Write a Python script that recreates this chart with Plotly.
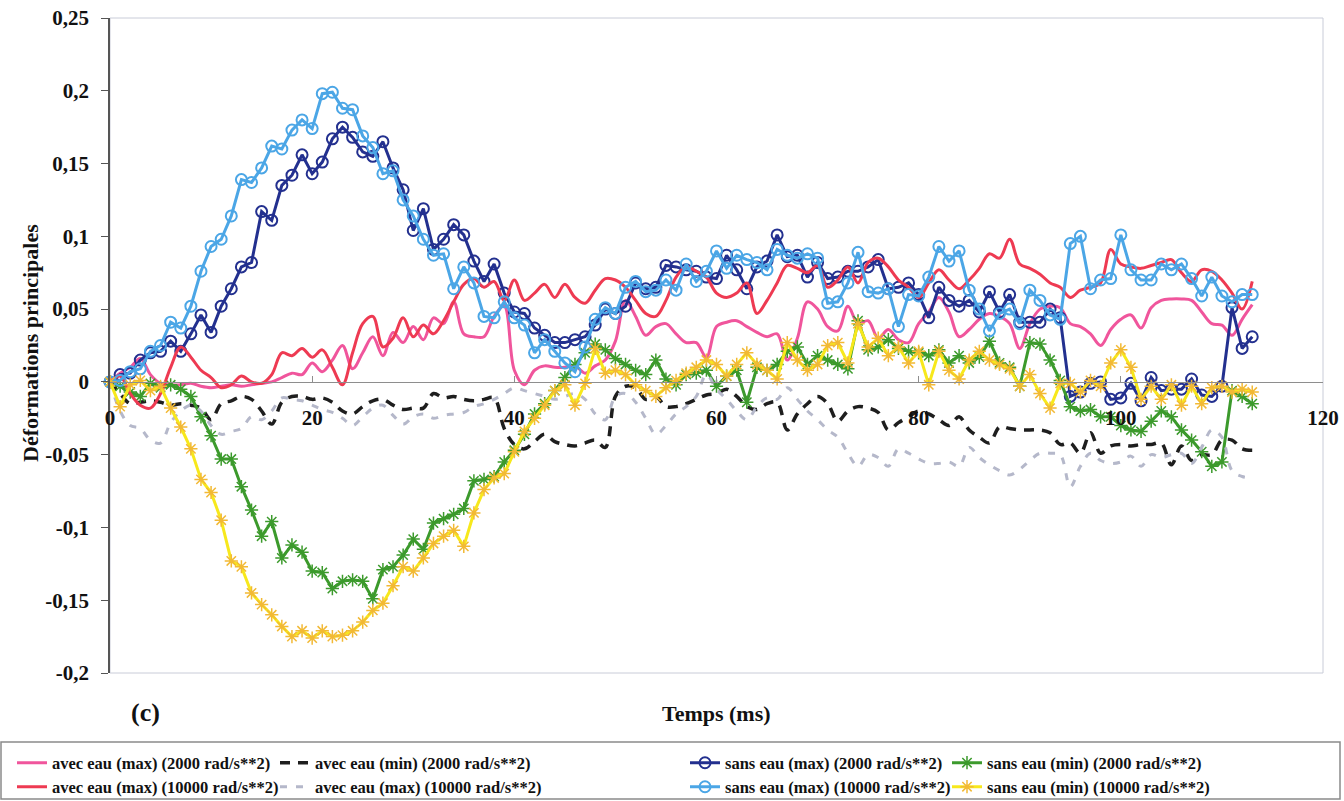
import plotly.graph_objects as go

# Sample times (ms), one sample per millisecond
temps = list(range(0, 114))

# avec eau (max) (2000 rad/s**2)
avec_max_2000 = [
    0.000, 0.006, 0.010, 0.016, 0.005, -0.001, -0.002, -0.002, -0.001, -0.003,
    -0.004, -0.003, -0.002, -0.003, -0.002, -0.001, 0.000, 0.003, 0.006, 0.005,
    0.013, 0.007, 0.015, 0.025, 0.009, 0.020, 0.031, 0.018, 0.034, 0.027,
    0.038, 0.029, 0.044, 0.040, 0.055, 0.033, 0.031, 0.031, 0.045, 0.052,
    0.008, -0.002, 0.008, 0.011, 0.010, 0.010, 0.011, 0.006, 0.011, 0.015,
    0.028, 0.056, 0.045, 0.032, 0.038, 0.040, 0.033, 0.027, 0.027, 0.017,
    0.038, 0.041, 0.042, 0.038, 0.034, 0.031, 0.033, 0.015, 0.030, 0.055,
    0.050, 0.038, 0.035, 0.052, 0.040, 0.042, 0.030, 0.036, 0.029, 0.027,
    0.040, 0.048, 0.058, 0.048, 0.031, 0.036, 0.043, 0.047, 0.045, 0.040,
    0.023, 0.040, 0.050, 0.052, 0.051, 0.040, 0.038, 0.033, 0.025, 0.036,
    0.043, 0.046, 0.037, 0.051, 0.056, 0.057, 0.057, 0.056, 0.048, 0.040,
    0.039, 0.032, 0.043, 0.053,
]

# avec eau (max) (10000 rad/s**2)
avec_max_10000 = [
    0.000, 0.004, -0.008, -0.016, -0.018, -0.008, 0.010, 0.024, 0.017, 0.008,
    0.003, -0.004, -0.002, 0.004, 0.000, -0.001, 0.005, 0.020, 0.018, 0.023,
    0.017, 0.022, 0.010, -0.002, 0.020, 0.040, 0.045, 0.024, 0.030, 0.044,
    0.031, 0.039, 0.033, 0.042, 0.055, 0.067, 0.071, 0.065, 0.069, 0.056,
    0.070, 0.056, 0.061, 0.067, 0.058, 0.067, 0.058, 0.054, 0.063, 0.071,
    0.070, 0.065, 0.056, 0.047, 0.045, 0.056, 0.072, 0.079, 0.076, 0.072,
    0.061, 0.058, 0.061, 0.068, 0.047, 0.056, 0.068, 0.080, 0.078, 0.075,
    0.080, 0.065, 0.070, 0.079, 0.068, 0.082, 0.085, 0.079, 0.070, 0.065,
    0.058, 0.068, 0.077, 0.070, 0.064, 0.070, 0.078, 0.088, 0.085, 0.098,
    0.081, 0.078, 0.074, 0.068, 0.065, 0.058, 0.063, 0.065, 0.068, 0.091,
    0.081, 0.079, 0.078, 0.080, 0.082, 0.084, 0.075, 0.069, 0.077, 0.076,
    0.070, 0.061, 0.050, 0.069,
]

# avec eau (min) (2000 rad/s**2)
avec_min_2000 = [
    0.000, -0.008, -0.015, -0.014, -0.013, -0.014, -0.016, -0.015, -0.016, -0.018,
    -0.026, -0.015, -0.013, -0.010, -0.012, -0.020, -0.029, -0.014, -0.010, -0.010,
    -0.012, -0.011, -0.014, -0.020, -0.022, -0.017, -0.013, -0.012, -0.016, -0.019,
    -0.018, -0.018, -0.008, -0.011, -0.010, -0.012, -0.013, -0.012, -0.011, -0.032,
    -0.043, -0.046, -0.041, -0.036, -0.041, -0.043, -0.044, -0.042, -0.040, -0.045,
    -0.010, -0.003, -0.004, -0.012, -0.010, -0.017, -0.017, -0.015, -0.012, -0.009,
    -0.008, -0.005, -0.010, -0.017, -0.019, -0.015, -0.014, -0.033, -0.022, -0.015,
    -0.010, -0.015, -0.027, -0.020, -0.017, -0.018, -0.021, -0.033, -0.028, -0.024,
    -0.020, -0.022, -0.026, -0.030, -0.024, -0.033, -0.038, -0.042, -0.031, -0.032,
    -0.033, -0.033, -0.033, -0.035, -0.043, -0.042, -0.049, -0.035, -0.049, -0.044,
    -0.043, -0.044, -0.043, -0.043, -0.042, -0.057, -0.044, -0.054, -0.050, -0.050,
    -0.040, -0.040, -0.046, -0.047,
]

# second "avec eau" lower envelope at 10000 rad/s**2 (legend text kept as printed)
avec_min_10000 = [
    0.000, -0.020, -0.030, -0.032, -0.040, -0.042, -0.028, -0.020, -0.016, -0.020,
    -0.030, -0.036, -0.034, -0.032, -0.024, -0.026, -0.020, -0.011, -0.012, -0.013,
    -0.016, -0.019, -0.021, -0.025, -0.030, -0.024, -0.018, -0.016, -0.023, -0.029,
    -0.024, -0.022, -0.025, -0.023, -0.022, -0.021, -0.017, -0.015, -0.012, -0.008,
    -0.004, -0.006, -0.008, -0.010, -0.012, -0.010, -0.008, -0.012, -0.022, -0.026,
    -0.010, -0.008, -0.014, -0.025, -0.036, -0.030, -0.022, -0.017, -0.010, 0.005,
    -0.005, -0.012, -0.020, -0.026, -0.017, -0.011, -0.012, -0.004, -0.012, -0.020,
    -0.026, -0.033, -0.038, -0.049, -0.058, -0.050, -0.052, -0.058, -0.046, -0.049,
    -0.053, -0.056, -0.056, -0.055, -0.058, -0.045, -0.052, -0.057, -0.061, -0.064,
    -0.060, -0.054, -0.049, -0.049, -0.050, -0.072, -0.058, -0.049, -0.054, -0.056,
    -0.055, -0.051, -0.058, -0.050, -0.052, -0.050, -0.049, -0.056, -0.045, -0.033,
    -0.038, -0.061, -0.065, -0.066,
]

# sans eau (max) (2000 rad/s**2)
sans_max_2000 = [
    0.000, 0.005, 0.006, 0.015, 0.020, 0.021, 0.028, 0.021, 0.033, 0.046,
    0.034, 0.052, 0.064, 0.079, 0.082, 0.117, 0.111, 0.135, 0.142, 0.156,
    0.143, 0.151, 0.167, 0.175, 0.168, 0.158, 0.155, 0.165, 0.147, 0.132,
    0.104, 0.119, 0.091, 0.098, 0.108, 0.101, 0.083, 0.069, 0.081, 0.061,
    0.048, 0.047, 0.037, 0.032, 0.027, 0.027, 0.029, 0.031, 0.039, 0.050,
    0.047, 0.052, 0.068, 0.064, 0.065, 0.080, 0.079, 0.077, 0.076, 0.072,
    0.071, 0.087, 0.077, 0.064, 0.079, 0.083, 0.101, 0.086, 0.087, 0.072,
    0.082, 0.071, 0.072, 0.076, 0.076, 0.079, 0.084, 0.064, 0.065, 0.068,
    0.060, 0.044, 0.065, 0.056, 0.052, 0.056, 0.048, 0.062, 0.048, 0.060,
    0.041, 0.041, 0.041, 0.050, 0.044, -0.010, -0.007, -0.001, 0.000, -0.012,
    -0.011, -0.001, -0.013, 0.003, -0.006, -0.005, -0.005, 0.002, -0.009, -0.010,
    -0.003, 0.051, 0.023, 0.031,
]

# sans eau (min) (2000 rad/s**2)
sans_min_2000 = [
    0.000, -0.003, -0.007, -0.010, -0.001, -0.004, -0.002, -0.005, -0.010, -0.024,
    -0.037, -0.053, -0.053, -0.072, -0.088, -0.106, -0.096, -0.121, -0.112, -0.117,
    -0.130, -0.131, -0.142, -0.137, -0.136, -0.137, -0.149, -0.129, -0.127, -0.119,
    -0.108, -0.115, -0.097, -0.094, -0.091, -0.087, -0.068, -0.067, -0.065, -0.055,
    -0.047, -0.036, -0.022, -0.015, -0.006, 0.003, 0.012, 0.020, 0.026, 0.022,
    0.016, 0.012, 0.008, 0.005, 0.015, 0.002, -0.002, 0.005, 0.006, 0.008,
    -0.003, 0.004, 0.008, -0.014, 0.010, 0.008, 0.012, 0.021, 0.024, 0.012,
    0.018, 0.015, 0.012, 0.009, 0.042, 0.022, 0.024, 0.029, 0.023, 0.021,
    0.020, 0.018, 0.022, 0.013, 0.018, 0.013, 0.017, 0.028, 0.013, 0.010,
    -0.003, 0.027, 0.026, 0.015, 0.001, -0.017, -0.020, -0.019, -0.024, -0.024,
    -0.030, -0.033, -0.034, -0.027, -0.020, -0.024, -0.033, -0.040, -0.048, -0.058,
    -0.055, -0.006, -0.010, -0.015,
]

# sans eau (max) (10000 rad/s**2)
sans_max_10000 = [
    0.000, 0.001, 0.007, 0.009, 0.021, 0.025, 0.041, 0.037, 0.052, 0.076,
    0.093, 0.098, 0.114, 0.139, 0.137, 0.147, 0.162, 0.160, 0.173, 0.180,
    0.174, 0.198, 0.199, 0.188, 0.187, 0.169, 0.161, 0.143, 0.145, 0.125,
    0.114, 0.098, 0.087, 0.088, 0.064, 0.079, 0.068, 0.045, 0.044, 0.055,
    0.044, 0.039, 0.020, 0.029, 0.021, 0.013, 0.007, 0.024, 0.043, 0.051,
    0.047, 0.065, 0.069, 0.062, 0.063, 0.070, 0.063, 0.081, 0.069, 0.076,
    0.090, 0.078, 0.087, 0.084, 0.082, 0.077, 0.091, 0.087, 0.085, 0.088,
    0.085, 0.054, 0.055, 0.068, 0.089, 0.062, 0.061, 0.064, 0.038, 0.060,
    0.059, 0.072, 0.093, 0.083, 0.090, 0.063, 0.050, 0.035, 0.047, 0.050,
    0.040, 0.063, 0.056, 0.046, 0.043, 0.095, 0.100, 0.064, 0.070, 0.071,
    0.101, 0.077, 0.070, 0.070, 0.081, 0.077, 0.081, 0.071, 0.059, 0.072,
    0.059, 0.055, 0.060, 0.060,
]

# sans eau (min) (10000 rad/s**2)
sans_min_10000 = [
    0.000, -0.017, -0.002, 0.001, -0.006, -0.003, -0.018, -0.031, -0.046, -0.067,
    -0.076, -0.095, -0.123, -0.127, -0.145, -0.153, -0.160, -0.168, -0.175, -0.171,
    -0.176, -0.171, -0.175, -0.174, -0.171, -0.165, -0.157, -0.152, -0.140, -0.127,
    -0.130, -0.121, -0.111, -0.106, -0.102, -0.113, -0.090, -0.074, -0.066, -0.063,
    -0.048, -0.034, -0.025, -0.016, -0.006, -0.002, -0.016, -0.001, 0.023, 0.006,
    0.008, 0.005, -0.002, -0.006, -0.010, -0.004, 0.001, 0.006, 0.010, 0.015,
    0.012, 0.004, 0.012, 0.020, 0.012, 0.008, 0.002, 0.027, 0.015, 0.008,
    0.012, 0.025, 0.027, 0.013, 0.040, 0.024, 0.030, 0.018, 0.024, 0.013,
    0.021, -0.002, 0.021, 0.008, 0.002, 0.015, 0.021, 0.015, 0.012, 0.009,
    -0.003, 0.005, -0.008, -0.018, -0.001, -0.001, -0.007, 0.001, -0.003, 0.013,
    0.022, 0.010, -0.012, -0.003, -0.012, -0.002, -0.016, -0.003, -0.015, -0.004,
    -0.003, -0.007, -0.005, -0.007,
]

y_ticks = [-0.2, -0.15, -0.1, -0.05, 0, 0.05, 0.1, 0.15, 0.2, 0.25]
y_tick_text = ["-0,2", "-0,15", "-0,1", "-0,05", "0", "0,05", "0,1", "0,15", "0,2", "0,25"]
x_ticks = [0, 20, 40, 60, 80, 100, 120]

SERIF = "Liberation Serif"

fig = go.Figure()

# smoothed "avec eau" curves, straight segments with markers for "sans eau"
fig.add_trace(go.Scatter(
    x=temps, y=avec_max_2000, mode="lines", name="avec eau (max) (2000 rad/s**2)",
    line=dict(color="#F0559C", width=3, shape="spline", smoothing=1.0),
    legend="legend"))
fig.add_trace(go.Scatter(
    x=temps, y=avec_min_2000, mode="lines", name="avec eau (min) (2000 rad/s**2)",
    line=dict(color="#1E1E1E", width=3.5, dash="10px,8px", shape="spline", smoothing=1.0),
    legend="legend2"))
fig.add_trace(go.Scatter(
    x=temps, y=sans_max_2000, mode="lines+markers", name="sans eau (max) (2000 rad/s**2)",
    line=dict(color="#23308F", width=3),
    marker=dict(symbol="circle-open", size=11, color="#23308F", line=dict(width=2, color="#23308F")),
    cliponaxis=False, legend="legend3"))
fig.add_trace(go.Scatter(
    x=temps, y=sans_min_2000, mode="lines+markers", name="sans eau (min) (2000 rad/s**2)",
    line=dict(color="#3C9A2C", width=3),
    marker=dict(symbol="asterisk-open", size=11, color="#3C9A2C", line=dict(width=1.5, color="#3C9A2C")),
    cliponaxis=False, legend="legend4"))
fig.add_trace(go.Scatter(
    x=temps, y=avec_max_10000, mode="lines", name="avec eau (max) (10000 rad/s**2)",
    line=dict(color="#EE3A52", width=3, shape="spline", smoothing=1.0),
    legend="legend5"))
fig.add_trace(go.Scatter(
    x=temps, y=avec_min_10000, mode="lines", name="avec eau (max) (10000 rad/s**2)",
    line=dict(color="#B5B8CA", width=3, dash="7px,9px", shape="spline", smoothing=1.0),
    legend="legend6"))
fig.add_trace(go.Scatter(
    x=temps, y=sans_max_10000, mode="lines+markers", name="sans eau (max) (10000 rad/s**2)",
    line=dict(color="#4BA6E6", width=3),
    marker=dict(symbol="circle-open", size=11, color="#4BA6E6", line=dict(width=2, color="#4BA6E6")),
    cliponaxis=False, legend="legend7"))
fig.add_trace(go.Scatter(
    x=temps, y=sans_min_10000, mode="lines+markers", name="sans eau (min) (10000 rad/s**2)",
    line=dict(color="#F7E81C", width=3),
    marker=dict(symbol="asterisk-open", size=11, color="#F2B935", line=dict(width=1.5, color="#F2B935")),
    cliponaxis=False, legend="legend8"))

# plot area geometry in pixels, used to place the frame and labels
L, R, T, B = 110, 21, 18, 128
W, H = 1344, 801
PW, PH = W - L - R, H - T - B


def px_x(px):
    return (px - L) / PW


def px_y(py):
    return (H - B - py) / PH


# two rows of four legend entries, positioned against the page itself
legend_font = dict(family=SERIF, size=16.5, color="#111", weight="bold")
col_text = [52, 315, 725, 987]
row_mid = [763, 787]
legends = {}
k = 1
for row in range(2):
    for col in range(4):
        key = "legend" if k == 1 else f"legend{k}"
        legends[key] = dict(
            xref="container", yref="container",
            x=(col_text[col] - 40) / W, y=1 - row_mid[row] / H,
            xanchor="left", yanchor="middle", orientation="v",
            bgcolor="rgba(0,0,0,0)", borderwidth=0, font=legend_font,
        )
        k += 1

fig.update_layout(
    width=W, height=H,
    margin=dict(l=L, r=R, t=T, b=B, autoexpand=False),
    paper_bgcolor="white", plot_bgcolor="white",
    font=dict(family=SERIF, color="#111"),
    showlegend=True,
    **legends,
    xaxis=dict(
        range=[0, 120], tickvals=x_ticks, ticktext=[str(v) for v in x_ticks],
        anchor="free", position=0.2 / 0.45,
        showline=True, linecolor="#8E8E8E", linewidth=1,
        ticks="inside", ticklen=6, tickcolor="#8E8E8E",
        showgrid=False, zeroline=False,
        tickfont=dict(family=SERIF, size=21, color="#111", weight="bold"),
        ticklabelstandoff=17,
    ),
    yaxis=dict(
        range=[-0.2, 0.25], tickvals=y_ticks, ticktext=y_tick_text,
        showline=True, linecolor="#555", linewidth=1.5,
        ticks="outside", ticklen=7, tickcolor="#555",
        showgrid=False, zeroline=False,
        tickfont=dict(family=SERIF, size=21, color="#111", weight="bold"),
        ticklabelstandoff=8,
    ),
    shapes=[
        dict(type="rect", xref="paper", yref="paper", x0=0, x1=1, y0=0, y1=1,
             line=dict(color="#C9CCD8", width=1), layer="below"),
        dict(type="rect", xref="paper", yref="paper",
             x0=px_x(1), x1=px_x(1340), y0=px_y(799), y1=px_y(742),
             line=dict(color="#8A8A8A", width=1.5), layer="below"),
    ],
    annotations=[
        dict(text="Déformations principales", textangle=-90, xref="paper", yref="paper",
             x=px_x(30), y=px_y(343), xanchor="center", yanchor="middle", showarrow=False,
             font=dict(family=SERIF, size=22, color="#111", weight="bold")),
        dict(text="Temps (ms)", xref="paper", yref="paper",
             x=px_x(716), y=px_y(713), xanchor="center", yanchor="middle", showarrow=False,
             font=dict(family=SERIF, size=22, color="#111", weight="bold")),
        dict(text="(c)", xref="paper", yref="paper",
             x=px_x(145), y=px_y(712), xanchor="center", yanchor="middle", showarrow=False,
             font=dict(family=SERIF, size=26, color="#111", weight="bold")),
    ],
)

fig.write_html("out.html")
